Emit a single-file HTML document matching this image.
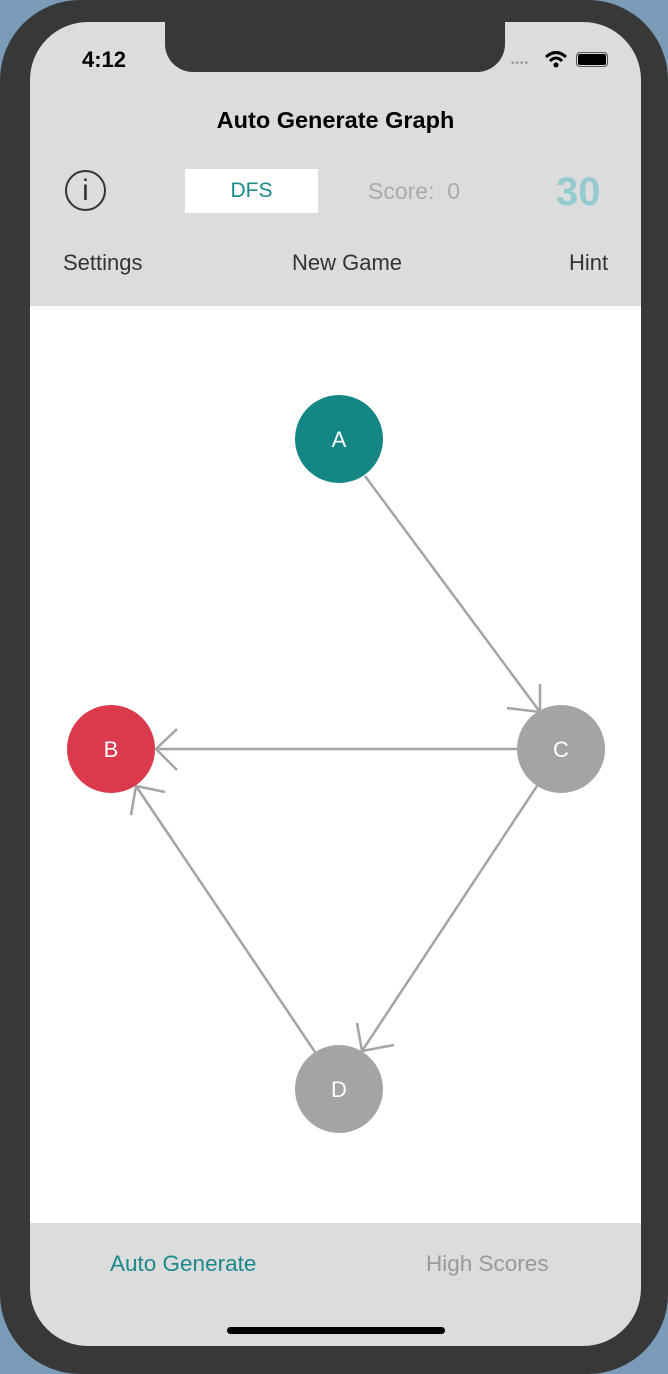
<!DOCTYPE html>
<html><head><meta charset="utf-8"><style>
html,body{margin:0;padding:0;width:668px;height:1374px;overflow:hidden;background:#7a9cb8;font-family:"Liberation Sans",sans-serif;}
.phone{position:absolute;left:0;top:0;width:668px;height:1374px;background:#383838;border-radius:80px;}
.screen{position:absolute;left:30px;top:22px;width:611px;height:1324px;background:#dcdcdc;border-radius:58px;overflow:hidden;}
.notch{position:absolute;left:135px;top:0;width:340px;height:50px;background:#383838;border-radius:0 0 28px 28px;}
.white{position:absolute;left:0;top:284px;width:611px;height:917px;background:#fff;}
.t{position:absolute;white-space:nowrap;}
</style></head><body>
<div class="phone"></div>
<div class="screen">
<div class="notch"></div>
<div class="t" style="left:52px;top:25px;font-size:22px;font-weight:bold;color:#000">4:12</div>
<div class="t" style="left:481px;top:36px;font-size:10px;color:#999;letter-spacing:1px">••••</div>
<svg style="position:absolute;left:514px;top:28px" width="24" height="20" viewBox="0 0 24 20"><path d="M2 7 Q12 -2 22 7" stroke="#000" stroke-width="3" fill="none"/><path d="M6 11 Q12 5 18 11" stroke="#000" stroke-width="3" fill="none"/><circle cx="12" cy="15" r="2.5"/></svg>
<div style="position:absolute;left:546px;top:30px;width:32px;height:15px;border:1.5px solid #555;border-radius:4px;box-sizing:border-box;padding:1px"><div style="background:#000;width:100%;height:100%;border-radius:2px"></div></div>
<div class="t" style="left:0;width:611px;text-align:center;top:85px;font-size:23.5px;font-weight:bold;color:#000">Auto Generate Graph</div>
<div style="position:absolute;left:35px;top:148px;width:41px;height:41px;border:2.5px solid #333;border-radius:50%;box-sizing:border-box;text-align:center;font-size:30px;line-height:37px;color:#333">i</div>
<div style="position:absolute;left:155px;top:147px;width:133px;height:44px;background:#fff;text-align:center;line-height:44px;font-size:21px;color:#1a8a8a">DFS</div>
<div class="t" style="left:338px;top:156px;font-size:23px;color:#aaa">Score:&nbsp; 0</div>
<div class="t" style="left:526px;top:148px;font-size:40px;font-weight:bold;color:#94cbcf">30</div>
<div class="t" style="left:33px;top:228px;font-size:22px;color:#333">Settings</div>
<div class="t" style="left:262px;top:228px;font-size:22px;color:#333">New Game</div>
<div class="t" style="left:539px;top:228px;font-size:22px;color:#333">Hint</div>
<div class="white"></div>
<div class="t" style="left:80px;top:1229px;font-size:22.5px;color:#1a8a8a">Auto Generate</div>
<div class="t" style="left:396px;top:1229px;font-size:22.5px;color:#999">High Scores</div>
<div style="position:absolute;left:197px;top:1305px;width:218px;height:7px;background:#000;border-radius:4px"></div>
</div>
<svg style="position:absolute;left:0;top:0" width="668" height="1374">
<g stroke="#a4a4a4" stroke-width="2.5" fill="none">
<line x1="365" y1="476" x2="540" y2="712"/>
<polyline points="507,708 540,712 540,684"/>
<line x1="517" y1="749" x2="156" y2="749"/>
<polyline points="177,729 156,749 177,770"/>
<line x1="537" y1="786" x2="362" y2="1051"/>
<polyline points="357,1023 362,1051 394,1045"/>
<line x1="315" y1="1052" x2="136" y2="786"/>
<polyline points="131,815 136,786 165,792"/>
</g>
<circle cx="339" cy="439" r="44" fill="#148686"/>
<circle cx="111" cy="749" r="44" fill="#db3a4c"/>
<circle cx="561" cy="749" r="44" fill="#a4a4a4"/>
<circle cx="339" cy="1089" r="44" fill="#a4a4a4"/>
<g font-family="Liberation Sans, sans-serif" font-size="22" fill="#fff" text-anchor="middle">
<text x="339" y="447">A</text><text x="111" y="757">B</text><text x="561" y="757">C</text><text x="339" y="1097">D</text>
</g>
</svg>
</body></html>
